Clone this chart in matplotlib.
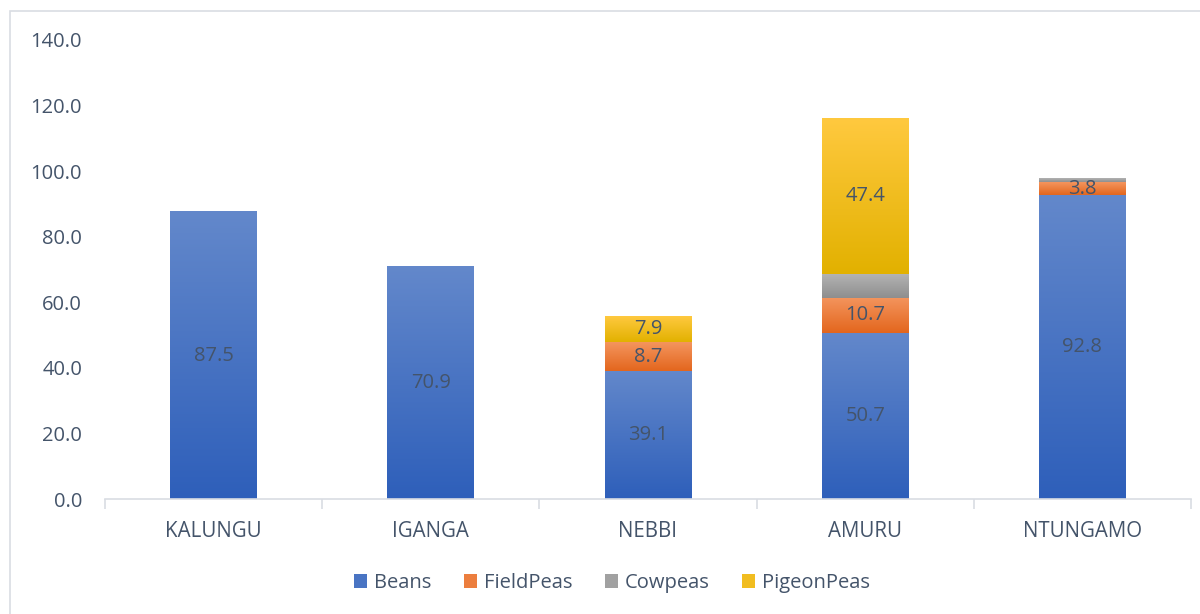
import numpy as np
import matplotlib.pyplot as plt
from matplotlib.colors import LinearSegmentedColormap
from matplotlib.patches import Rectangle

plt.rcParams['font.family'] = ['Open Sans', 'DejaVu Sans']

# Dados
districts = ["KALUNGU", "IGANGA", "NEBBI", "AMURU", "NTUNGAMO"]
beans = [87.5, 70.9, 39.1, 50.7, 92.8]
field_peas = [0.0, 0.0, 8.7, 10.7, 3.8]
cowpeas = [0.0, 0.0, 0.0, 7.3, 1.0]
pigeon_peas = [0.0, 0.0, 7.9, 47.4, 0.0]

series = [
    ("Beans", beans, ("#6388cb", "#2e5fba"), True),
    ("FieldPeas", field_peas, ("#f4955e", "#e3661d"), True),
    ("Cowpeas", cowpeas, ("#b3b3b3", "#8e8e8e"), False),
    ("PigeonPeas", pigeon_peas, ("#ffc93f", "#e2b100"), True),
]

text_color = "#44546a"
axis_color = "#d9dde3"

fig = plt.figure(figsize=(12, 6.14), dpi=100)
ax = fig.add_axes([0.0875, 0.187, 0.905, 0.748])

x = np.arange(len(districts))
width = 0.40
bottom = np.zeros(len(districts))
handles = []

# barras empilhadas com gradiente (estilo Excel)
for name, values, (c_top, c_bot), show_label in series:
    values = np.array(values)
    bars = ax.bar(x, values, width, bottom=bottom, color="none", linewidth=0)
    cmap = LinearSegmentedColormap.from_list(name, [c_bot, c_top])
    grad = np.linspace(0, 1, 256).reshape(-1, 1)
    for bar, v in zip(bars, values):
        if v <= 0:
            continue
        x0, y0 = bar.get_x(), bar.get_y()
        ax.imshow(grad, cmap=cmap, origin="lower", aspect="auto",
                  extent=[x0, x0 + bar.get_width(), y0, y0 + bar.get_height()],
                  zorder=2, interpolation="bicubic")
        if show_label:
            ax.text(x0 + bar.get_width() / 2, y0 + v / 2, f"{v:.1f}",
                    ha="center", va="center", fontsize=14.5, color=text_color, zorder=3)
    bottom += values
    handles.append(Rectangle((0, 0), 1, 1, facecolor=cmap(0.5), edgecolor="none"))

ax.set_xlim(-0.5, len(districts) - 0.5)
ax.set_ylim(0, 140)
ax.set_yticks(np.arange(0, 141, 20))
ax.set_yticklabels([f"{v:.1f}" for v in np.arange(0, 141, 20)])
ax.set_xticks(x)
ax.set_xticklabels(districts)
ax.tick_params(axis="y", length=0, labelsize=14.5, labelcolor=text_color, pad=16.5)
ax.tick_params(axis="x", length=0, labelsize=14.8, labelcolor=text_color, pad=15.5)

# marcas entre categorias
ax.set_xticks(np.arange(-0.5, len(districts)), minor=True)
ax.tick_params(axis="x", which="minor", length=7, color=axis_color, width=1.2)

for side in ["top", "right", "left"]:
    ax.spines[side].set_visible(False)
ax.spines["bottom"].set_color(axis_color)
ax.spines["bottom"].set_linewidth(1.2)

ax.legend(handles, [s[0] for s in series], loc="center", bbox_to_anchor=(0.467, -0.183),
          ncol=4, frameon=False, fontsize=14.5, labelcolor=text_color,
          handlelength=0.65, handleheight=0.65, handletextpad=0.35, columnspacing=1.6)

# moldura do gráfico
fig.patches.append(Rectangle((10 / 1200, -0.01), 1.2, 1 - 11 / 614 + 0.01,
                             transform=fig.transFigure, fill=False,
                             edgecolor=axis_color, linewidth=1.2))

fig.savefig("out.png", dpi=100)
